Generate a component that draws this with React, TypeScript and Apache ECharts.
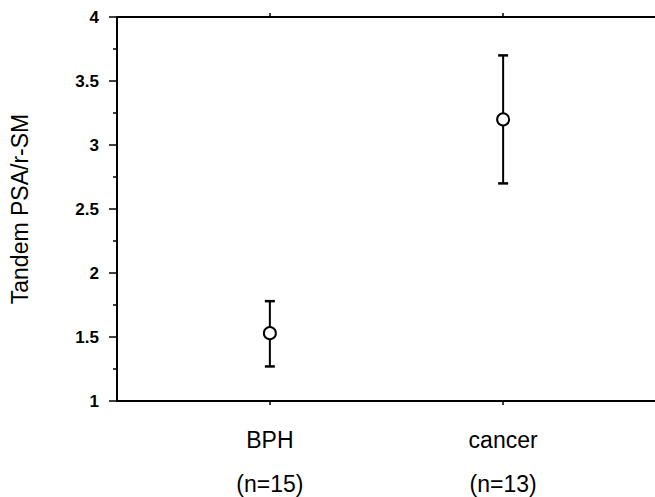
import React, { useEffect, useRef } from "react";
import * as echarts from "echarts";

const xPositions = [1, 2];
const categories = ["BPH", "cancer"];
const sampleSizes = ["(n=15)", "(n=13)"];
const means = [1.53, 3.2];
const upper = [1.78, 3.7];
const lower = [1.27, 2.7];
const yMin = 1;
const yMax = 4;
const yInterval = 0.5;
const yTitle = "Tandem PSA/r-SM";

const FONT = "'Liberation Sans', Arial, Helvetica, sans-serif";

export default function App() {
  const ref = useRef<HTMLDivElement | null>(null);
  useEffect(() => {
    if (!ref.current) return;
    const chart = echarts.init(ref.current, null, { renderer: "svg" });
    const xMin = 1 - (267 - 113) / 235;
    const xMax = 2 + (655 - 502) / 235;
    const option: any = {
      animation: false,
      backgroundColor: "#fff",
      textStyle: { fontFamily: FONT },
      grid: { left: 113, right: 0, top: 17, bottom: 96, show: false },
      xAxis: [
        {
          type: "value",
          position: "bottom",
          min: xMin,
          max: xMax,
          splitLine: { show: false },
          axisLine: { show: true, lineStyle: { color: "#000", width: 2 } },
          axisTick: {
            show: true,
            inside: false,
            length: 4,
            customValues: xPositions,
            lineStyle: { color: "#000", width: 1.5 },
          },
          axisLabel: {
            show: true,
            margin: 18,
            customValues: xPositions,
            color: "#000",
            fontFamily: FONT,
            formatter: (v: number) => {
              const i = xPositions.indexOf(v);
              if (i < 0) return "";
              return `{a|${categories[i]}}\n{b|${sampleSizes[i]}}`;
            },
            rich: {
              a: { fontSize: 23, lineHeight: 42, color: "#000", fontFamily: FONT },
              b: { fontSize: 23, lineHeight: 46, color: "#000", fontFamily: FONT },
            },
          },
        },
        {
          type: "value",
          position: "top",
          min: xMin,
          max: xMax,
          splitLine: { show: false },
          axisLine: { show: true, lineStyle: { color: "#000", width: 2 } },
          axisTick: {
            show: true,
            inside: false,
            length: 4,
            customValues: xPositions,
            lineStyle: { color: "#000", width: 1.5 },
          },
          axisLabel: { show: false },
        },
      ],
      yAxis: {
        type: "value",
        min: yMin,
        max: yMax,
        interval: yInterval,
        name: yTitle,
        nameLocation: "middle",
        nameGap: 86,
        nameTextStyle: { fontSize: 23, color: "#000", fontFamily: FONT },
        splitLine: { show: false },
        axisLine: { show: true, lineStyle: { color: "#000", width: 2 } },
        axisTick: { show: true, inside: false, length: 8, lineStyle: { color: "#000", width: 1.5 } },
        minorTick: { show: true, splitNumber: 2, length: 4, lineStyle: { color: "#000", width: 1.5 } },
        minorSplitLine: { show: false },
        axisLabel: {
          margin: 18,
          fontSize: 17,
          fontWeight: "bold",
          color: "#000",
          fontFamily: FONT,
          formatter: (v: number) => String(v),
        },
      },
      series: [
        {
          type: "custom",
          xAxisIndex: 0,
          yAxisIndex: 0,
          data: xPositions.map((x, i) => [x, lower[i], upper[i]]),
          encode: { x: 0, y: [1, 2] },
          renderItem: (params: any, api: any) => {
            const x = api.value(0);
            const lo = api.coord([x, api.value(1)]);
            const hi = api.coord([x, api.value(2)]);
            const hw = 5;
            const style = { stroke: "#000", lineWidth: 2 };
            return {
              type: "group",
              children: [
                { type: "line", shape: { x1: lo[0], y1: lo[1], x2: hi[0], y2: hi[1] }, style },
                { type: "line", shape: { x1: lo[0] - hw, y1: lo[1], x2: lo[0] + hw, y2: lo[1] }, style: { stroke: "#000", lineWidth: 2.5 } },
                { type: "line", shape: { x1: hi[0] - hw, y1: hi[1], x2: hi[0] + hw, y2: hi[1] }, style: { stroke: "#000", lineWidth: 2.5 } },
              ],
            };
          },
          z: 2,
        },
        {
          type: "scatter",
          xAxisIndex: 0,
          yAxisIndex: 0,
          data: xPositions.map((x, i) => [x, means[i]]),
          symbol: "circle",
          symbolSize: 12,
          itemStyle: { color: "#fff", borderColor: "#000", borderWidth: 2, opacity: 1 },
          z: 3,
        },
      ],
    };
    chart.setOption(option);
    return () => chart.dispose();
  }, []);
  return (
    <div
      ref={ref}
      style={{ position: "fixed", left: 0, top: 0, width: 655, height: 497, background: "#fff" }}
    />
  );
}
